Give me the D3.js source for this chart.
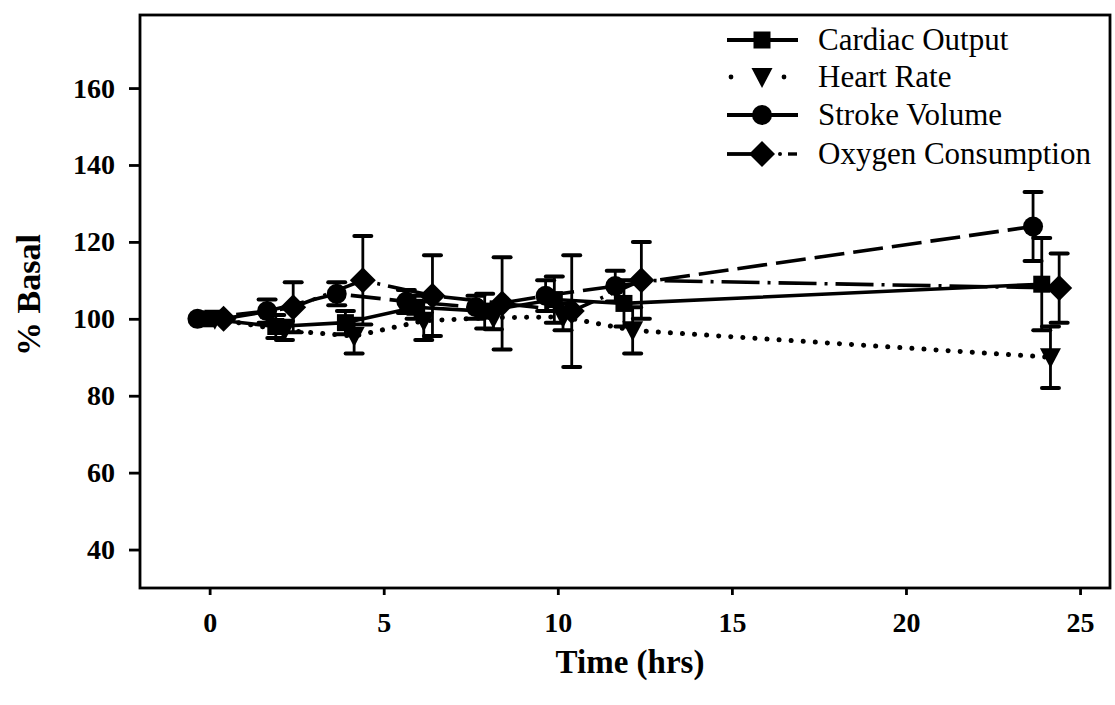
<!DOCTYPE html>
<html><head><meta charset="utf-8">
<script src="https://cdn.jsdelivr.net/npm/d3@7"></script>
<style>
html,body{margin:0;padding:0;background:#fff;}
svg{display:block;}
text{font-family:"Liberation Serif","Times New Roman",serif;fill:#000;}
</style></head>
<body>
<svg id="chart" width="1115" height="705"></svg>
<script>
// ---- data ----
const nominalTimes = [0, 2, 4, 6, 8, 10, 12, 24];
const seriesNames = ["Cardiac Output", "Heart Rate", "Stroke Volume", "Oxygen Consumption"];
const timeOffsets = [-0.1, 0.15, -0.35, 0.4];
const cardiacOutput = [100, 98, 99, 103, 102, 105, 104, 109];
const cardiacOutputErr = [0, 3, 3, 3, 4.5, 6, 6, 12];
const heartRate = [100, 97, 95.5, 99.5, 100.3, 100.5, 97, 90];
const heartRateErr = [0, 2.5, 4.5, 5, 3, 3.5, 6, 8];
const strokeVolume = [100, 102, 106.5, 104.5, 103, 106, 108.5, 124];
const strokeVolumeErr = [0, 3, 3, 3, 3, 4, 4, 9];
const oxygenConsumption = [100, 103, 110, 106, 104, 102, 110, 108];
const oxygenConsumptionErr = [0, 6.5, 11.5, 10.5, 12, 14.5, 10, 9];
const xTicks = [0, 5, 10, 15, 20, 25];
const yTicks = [40, 60, 80, 100, 120, 140, 160];

const values = [cardiacOutput, heartRate, strokeVolume, oxygenConsumption];
const errors = [cardiacOutputErr, heartRateErr, strokeVolumeErr, oxygenConsumptionErr];
const markers = ["square", "triangle", "circle", "diamond"];
const dashes = [null, "0.1,12", "30,9", "38,8,3,8"];

const svg = d3.select("#chart");
const L = 140, R = 1110, T = 15, B = 588;
const x = d3.scaleLinear().domain([-2, 25.86]).range([L, R]);
const y = d3.scaleLinear().domain([30, 179]).range([B, T]);

// frame
svg.append("rect").attr("x", L).attr("y", T).attr("width", R - L).attr("height", B - T)
  .attr("fill", "none").attr("stroke", "#000").attr("stroke-width", 2.8);

// axes
const yAxis = svg.append("g").attr("transform", `translate(${L},0)`)
  .call(d3.axisLeft(y).tickValues(yTicks).tickSize(11).tickPadding(14).tickFormat(d3.format("d")));
const xAxis = svg.append("g").attr("transform", `translate(0,${B})`)
  .call(d3.axisBottom(x).tickValues(xTicks).tickSize(7).tickPadding(17).tickFormat(d3.format("d")));
[yAxis, xAxis].forEach(g => {
  g.select(".domain").remove();
  g.selectAll(".tick line").attr("stroke", "#000").attr("stroke-width", 2.8);
  g.selectAll(".tick text").attr("font-family", "Liberation Serif").attr("font-weight", "bold")
    .attr("font-size", 28).attr("fill", "#000");
});

// axis titles
svg.append("text").attr("transform", "translate(40,295) rotate(-90)")
  .attr("text-anchor", "middle").attr("font-weight", "bold").attr("font-size", 34).text("% Basal");
svg.append("text").attr("x", 630).attr("y", 673)
  .attr("text-anchor", "middle").attr("font-weight", "bold").attr("font-size", 33).text("Time (hrs)");

function markerPath(type, cx, cy) {
  const p = d3.path();
  if (type === "square") { p.rect(cx - 8.5, cy - 8.5, 17, 17); }
  else if (type === "circle") { p.arc(cx, cy, 10, 0, 2 * Math.PI); }
  else if (type === "diamond") { p.moveTo(cx, cy - 13); p.lineTo(cx + 13, cy); p.lineTo(cx, cy + 13); p.lineTo(cx - 13, cy); p.closePath(); }
  else { p.moveTo(cx - 10.5, cy - 9); p.lineTo(cx + 10.5, cy - 9); p.lineTo(cx, cy + 11); p.closePath(); }
  return p.toString();
}

const plot = svg.append("g");
const line = d3.line().x(d => x(d.t)).y(d => y(d.v));
const seriesData = values.map((vals, i) => vals.map((v, j) => ({ t: nominalTimes[j] + timeOffsets[i], v, e: errors[i][j] })));

// lines
seriesData.forEach((data, i) => {
  const path = plot.append("path").datum(data).attr("d", line).attr("fill", "none")
    .attr("stroke", "#000").attr("stroke-width", i === 1 ? 5 : 3.6);
  if (dashes[i]) path.attr("stroke-dasharray", dashes[i]);
  if (i === 1) path.attr("stroke-linecap", "round");
});
// error bars
seriesData.forEach((data, i) => {
  const g = plot.append("g");
  data.filter(d => d.e > 0).forEach(d => {
    const cx = x(d.t);
    g.append("line").attr("x1", cx).attr("x2", cx).attr("y1", y(d.v - d.e)).attr("y2", y(d.v + d.e))
      .attr("stroke", "#000").attr("stroke-width", 2.8);
    [d.v - d.e, d.v + d.e].forEach(vv => {
      g.append("line").attr("x1", cx - 8.5).attr("x2", cx + 8.5).attr("y1", y(vv)).attr("y2", y(vv))
        .attr("stroke", "#000").attr("stroke-width", 4).attr("stroke-linecap", "round");
    });
  });
});
// markers
seriesData.forEach((data, i) => {
  plot.append("g").selectAll("path").data(data).join("path")
    .attr("d", d => markerPath(markers[i], x(d.t), y(d.v))).attr("fill", "#000");
});

// legend
const legendY = [40, 77, 115, 154];
const lg = svg.append("g");
seriesNames.forEach((name, i) => {
  const cy = legendY[i];
  if (i === 0 || i === 2) {
    lg.append("line").attr("x1", 727).attr("x2", 798).attr("y1", cy).attr("y2", cy)
      .attr("stroke", "#000").attr("stroke-width", 3.8);
  } else if (i === 1) {
    [731, 784].forEach(px => lg.append("circle").attr("cx", px).attr("cy", cy).attr("r", 2.4).attr("fill", "#000"));
  } else {
    lg.append("line").attr("x1", 727).attr("x2", 758).attr("y1", cy).attr("y2", cy)
      .attr("stroke", "#000").attr("stroke-width", 3.8);
    lg.append("circle").attr("cx", 780).attr("cy", cy).attr("r", 2).attr("fill", "#000");
    lg.append("line").attr("x1", 788).attr("x2", 797).attr("y1", cy).attr("y2", cy)
      .attr("stroke", "#000").attr("stroke-width", 3.4);
  }
  lg.append("path").attr("d", markerPath(markers[i], 762, cy)).attr("fill", "#000");
  lg.append("text").attr("x", 818).attr("y", cy + 10).attr("font-size", 31).text(name);
});
</script>
</body></html>
